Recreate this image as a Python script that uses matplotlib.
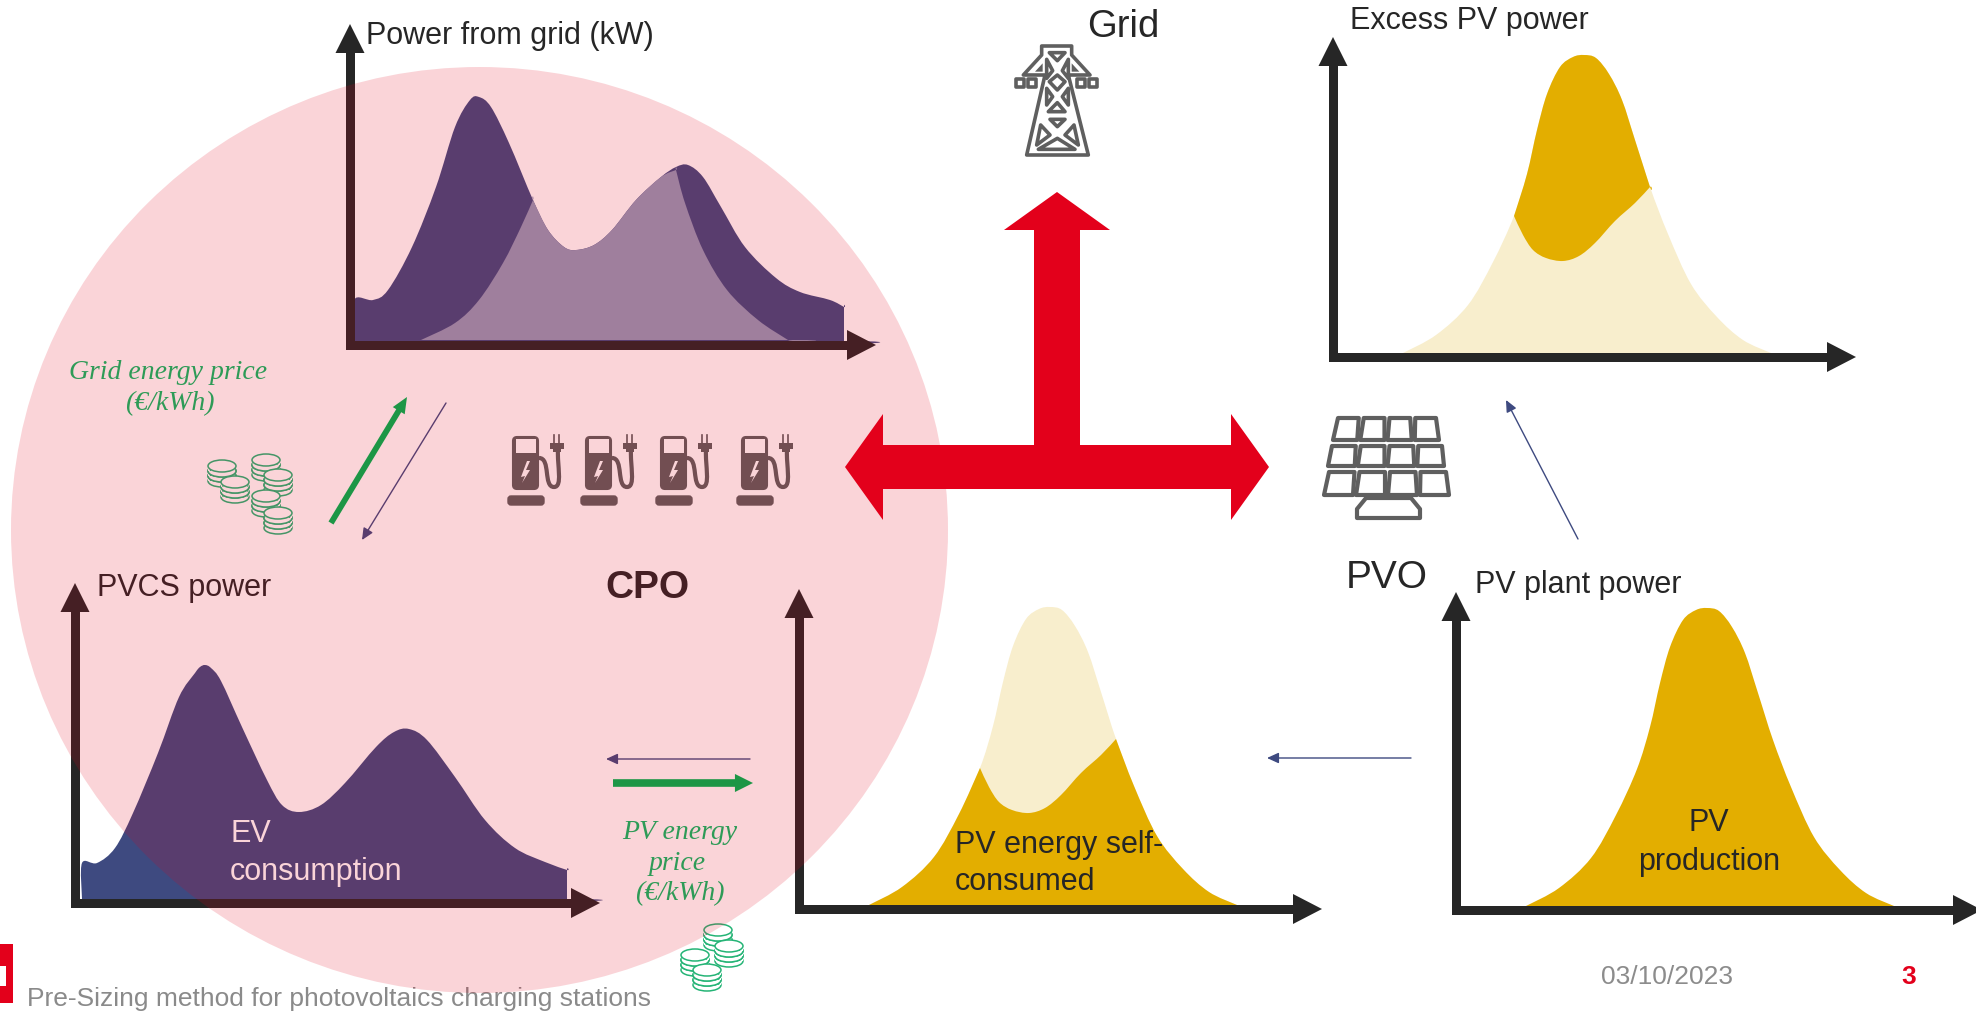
import matplotlib
matplotlib.use('Agg')
import matplotlib.pyplot as plt
import numpy as np
from matplotlib.path import Path
from matplotlib.patches import PathPatch, Polygon, Ellipse, Rectangle, FancyBboxPatch

W, H = 1976, 1013

# curves, px from the panel origin (x right, y up)
# doubled points are sharp corners
grid_x = [4, 4, 23, 38, 62, 86, 105, 120, 129, 141, 159, 183, 198, 214, 226, 244, 262, 286, 311, 326, 338, 353, 371, 395, 426, 450, 480, 494, 494, 494, 494, 4, 4]
grid_y = [4, 45, 45, 55, 98, 158, 218, 245, 248, 238, 202, 145, 115, 98, 95, 100, 115, 145, 168, 178, 180, 168, 138, 98, 67, 53, 45, 38, 38, 4, 4, 4, 4]

shared_x = [71, 71, 105, 129, 153, 171, 183, 183, 198, 214, 226, 244, 262, 286, 311, 326, 326, 335, 353, 377, 408, 438, 438, 71]
shared_y = [5, 5, 22, 45, 82, 118, 145, 145, 115, 98, 95, 100, 115, 145, 168, 175, 175, 142, 95, 55, 25, 5, 5, 5]

ev_x = [7, 7, 22, 40, 58, 83, 104, 120, 125, 130, 136, 146, 167, 192, 207, 224, 246, 270, 301, 319, 334, 352, 380, 410, 440, 470, 492, 492, 492, 492, 7, 7]
ev_y = [4, 40, 40, 55, 90, 150, 206, 230, 236, 238, 235, 222, 176, 123, 98, 91, 98, 120, 156, 171, 174, 163, 126, 83, 55, 41, 33, 33, 4, 4, 4, 4]

# PV bell, same shape on the three PV panels, cut where the self-consumed edge meets it
pv_rise_x = [70, 103, 135, 160, 181]
pv_rise_y = [4, 22, 52, 95, 141]
pv_top_x = [194, 204, 214, 227, 240, 251, 263, 276, 289, 302]
pv_top_y = [183, 227, 263, 290, 300, 302, 299, 283, 257, 217]
pv_fall_x = [317, 335, 358, 384, 410, 438]
pv_fall_y = [170, 123, 73, 40, 17, 4]

# lower edge of the excess PV / upper edge of the self-consumed part
edge_x = [181, 190, 200, 213, 230, 246, 262, 282, 302, 317]
edge_y = [141, 122, 107, 99, 96, 101, 114, 136, 154, 170]

# panels: origin px, y axis tip px, x axis tip px
panel_origin = {'grid': (350, 345), 'excess': (1333, 357), 'self': (799, 909), 'pv': (1456, 910), 'ev': (75, 903)}
panel_ytip = {'grid': 24, 'excess': 37, 'self': 589, 'pv': 592, 'ev': 583}
panel_xtip = {'grid': 876, 'excess': 1856, 'self': 1322, 'pv': 1982, 'ev': 600}

station_shift = [0, 73, 148, 229]
coin_tops = [(222, 466), (235, 482), (266, 460), (278, 475), (266, 496), (278, 513),
             (718, 930), (729, 946), (695, 955), (707, 970)]

PURPLE = '#3E4A80'
PALE_PURPLE = '#9299B8'
GOLD = '#E3AE00'
PALE_GOLD = '#F8EECD'
RED = '#E3001B'
INK = '#262626'
GREEN = '#1D9646'
GREEN_TXT = '#2E9B57'
COIN = '#25B476'
ICON = '#5C5E5E'
LINE_GREY = '#5F5F5F'
plt.rcParams['font.family'] = ['Liberation Sans', 'DejaVu Sans']
plt.rcParams['hatch.linewidth'] = 0.7


def smooth(xs, ys):
    pts = np.column_stack([xs, ys]).astype(float)
    verts = [pts[0]]
    codes = [Path.MOVETO]
    for i in range(len(pts) - 1):
        a, b, c, d = pts[max(i - 1, 0)], pts[i], pts[i + 1], pts[min(i + 2, len(pts) - 1)]
        verts += [b + (c - a) / 6, c - (d - b) / 6, c]
        codes += [Path.CURVE4] * 3
    return Path(verts, codes)


def panel(name):
    ox, oy = panel_origin[name]
    w = 560
    h = 340
    a = fig.add_axes([ox / W, 1 - oy / H, w / W, h / H], zorder=1)
    a.set_xlim(0, w)
    a.set_ylim(0, h)
    a.axis('off')
    return a


def fill_curve(a, xs, ys, color):
    a.add_patch(PathPatch(smooth(xs, ys), fc=color, ec='none'))


def axis_arrows(name):
    ox, oy = panel_origin[name]
    ytip, xtip = panel_ytip[name], panel_xtip[name]
    ax.add_patch(Rectangle((ox - 4.5, ytip + 25), 9, oy - ytip - 20, fc=INK, ec='none', zorder=3))
    ax.add_patch(Rectangle((ox - 4.5, oy - 4.5), xtip - ox - 25, 9, fc=INK, ec='none', zorder=3))
    ax.add_patch(Polygon([(ox, ytip), (ox - 14.5, ytip + 29), (ox + 14.5, ytip + 29)], fc=INK, ec='none', zorder=3))
    ax.add_patch(Polygon([(xtip, oy), (xtip - 29, oy - 15), (xtip - 29, oy + 15)], fc=INK, ec='none', zorder=3))


def thin_arrow(a, x0, y0, x1, y1, color=PURPLE):
    a.annotate('', xy=(x1, y1), xytext=(x0, y0), zorder=4,
               arrowprops=dict(arrowstyle='-|>,head_width=0.32,head_length=0.7', color=color, lw=1.0,
                               shrinkA=0, shrinkB=0))


def fat_arrow(a, x0, y0, x1, y1, lw, hw, hl, color=GREEN):
    a.annotate('', xy=(x1, y1), xytext=(x0, y0), zorder=6,
               arrowprops=dict(arrowstyle='simple,head_width=%f,head_length=%f,tail_width=%f' % (hw, hl, lw),
                               color=color, lw=0, shrinkA=0, shrinkB=0))


def charger(dx):
    ix = lambda v: 507 + dx + v
    ax.add_patch(FancyBboxPatch((ix(6), 437), 25, 52, boxstyle='round,pad=0,rounding_size=4', fc=ICON, ec=ICON, lw=1.5, zorder=3))
    ax.add_patch(Rectangle((ix(9), 439), 20, 14, fc='white', ec='none', zorder=3))
    ax.add_patch(Polygon([(ix(20), 461), (ix(14), 477), (ix(18), 476), (ix(15), 483), (ix(23), 470), (ix(19), 470), (ix(23), 461)], fc='white', ec='none', zorder=3))
    ax.add_patch(FancyBboxPatch((ix(1), 496), 36, 9, boxstyle='round,pad=0,rounding_size=3', fc=ICON, ec=ICON, lw=1, zorder=3))
    cable = Path([(ix(32), 458), (ix(44), 458), (ix(36), 487), (ix(47), 487), (ix(56), 487), (ix(50), 465), (ix(51), 450)],
                 [Path.MOVETO] + [Path.CURVE4] * 6)
    ax.add_patch(PathPatch(cable, fc='none', ec=ICON, lw=3, zorder=3))
    ax.add_patch(Rectangle((ix(43), 443), 14, 6, fc=ICON, ec='none', zorder=3))
    ax.add_patch(Rectangle((ix(46), 449), 8, 3, fc=ICON, ec='none', zorder=3))
    ax.plot([ix(46.5), ix(46.5)], [435, 443], color=ICON, lw=1.2, zorder=3)
    ax.plot([ix(52), ix(52)], [435, 443], color=ICON, lw=1.2, zorder=3)


def coin_stack(x, top):
    for k in [2, 1, 0]:
        y = top + k * 5
        ax.add_patch(Ellipse((x, y + 5), 28, 12, fc='white', ec=COIN, lw=1.1, zorder=3))
        ax.add_patch(Rectangle((x - 14, y), 28, 5, fc='white', ec=COIN, hatch='||||', lw=0, zorder=3))
        ax.add_patch(Ellipse((x, y), 28, 12, fc='white', ec=COIN, lw=1.1, zorder=3))


def grey_shape(points, closed=True, lw=2.6):
    pts = [(x / 3 + 1000, y / 3 + 30) for x, y in points]
    ax.add_patch(Polygon(pts, closed=closed, fc='none', ec=LINE_GREY, lw=lw, joinstyle='round', zorder=3))


fig = plt.figure(figsize=(W / 100, H / 100), dpi=100)

a_grid = panel('grid')
fill_curve(a_grid, grid_x, grid_y, PURPLE)
fill_curve(a_grid, shared_x, shared_y, PALE_PURPLE)

a_ev = panel('ev')
fill_curve(a_ev, ev_x, ev_y, PURPLE)

bell_x = pv_rise_x + pv_top_x + pv_fall_x + [438, 70, 70]
bell_y = pv_rise_y + pv_top_y + pv_fall_y + [4, 4, 4]

a_ex = panel('excess')
fill_curve(a_ex, bell_x, bell_y, PALE_GOLD)
fill_curve(a_ex, edge_x + edge_x[-1:] + pv_top_x[::-1] + edge_x[:1] + edge_x[:1],
           edge_y + edge_y[-1:] + pv_top_y[::-1] + edge_y[:1] + edge_y[:1], GOLD)

a_self = panel('self')
fill_curve(a_self, bell_x, bell_y, PALE_GOLD)
fill_curve(a_self, pv_rise_x + edge_x[:1] + edge_x + edge_x[-1:] + pv_fall_x + [438, 70, 70],
           pv_rise_y + edge_y[:1] + edge_y + edge_y[-1:] + pv_fall_y + [4, 4, 4], GOLD)

a_pv = panel('pv')
fill_curve(a_pv, bell_x, bell_y, GOLD)

# overlay in picture pixels
ax = fig.add_axes([0, 0, 1, 1], zorder=2)
ax.set_xlim(0, W)
ax.set_ylim(H, 0)
ax.axis('off')

for name in panel_origin:
    axis_arrows(name)

for dx in station_shift:
    charger(dx)
for x, y in coin_tops:
    coin_stack(x, y)

# tower
grey_shape([(125, 48), (215, 48), (215, 75), (270, 135), (205, 135), (265, 375), (80, 375), (135, 135), (70, 135), (125, 75)])
for shape in [[(148, 68), (195, 68), (172, 92)],
              [(172, 135), (195, 155), (172, 180), (148, 155)],
              [(140, 88), (158, 122), (140, 145)], [(205, 88), (187, 122), (205, 145)],
              [(140, 175), (158, 200), (140, 225)], [(205, 175), (187, 200), (205, 225)],
              [(172, 218), (195, 245), (145, 245)],
              [(150, 268), (195, 268), (172, 290)],
              [(122, 285), (150, 315), (110, 345)], [(222, 285), (195, 315), (235, 345)],
              [(172, 325), (225, 358), (115, 358)],
              [(48, 148), (72, 148), (72, 172), (48, 172)], [(84, 148), (108, 148), (108, 172), (84, 172)],
              [(232, 148), (256, 148), (256, 172), (232, 172)], [(268, 148), (292, 148), (292, 172), (268, 172)]]:
    grey_shape(shape)
for shape in [[(105, 125), (128, 100), (128, 125)], [(215, 100), (238, 125), (215, 125)]]:
    pts = [(x / 3 + 1000, y / 3 + 30) for x, y in shape]
    ax.add_patch(Polygon(pts, fc=LINE_GREY, ec='none', zorder=3))

# solar panel
rows = [(418, 440, 1333, 1442, 1336, 1439), (446, 466, 1328, 1447, 1330, 1445), (472, 495, 1324, 1452, 1327, 1449)]
for y0, y1, xb0, xb1, xt0, xt1 in rows:
    for c in range(4):
        tl = xt0 + (xt1 - xt0) * c / 4
        tr = xt0 + (xt1 - xt0) * (c + 1) / 4 - 3
        bl = xb0 + (xb1 - xb0) * c / 4
        br = xb0 + (xb1 - xb0) * (c + 1) / 4 - 3
        ax.add_patch(Polygon([(tl + 2, y0), (tr, y0), (br, y1), (bl, y1)], fc='none', ec=LINE_GREY, lw=3, joinstyle='round', zorder=3))
ax.add_patch(Polygon([(1366, 498), (1411, 498), (1420, 509), (1420, 518), (1357, 518), (1357, 509)], fc='none', ec=LINE_GREY, lw=3, joinstyle='round', zorder=3))

# thin flow arrows
thin_arrow(ax, 446, 403, 362, 540)
thin_arrow(ax, 750, 759, 606, 759)
thin_arrow(ax, 1411, 758, 1267, 758)
thin_arrow(ax, 1578, 539, 1506, 400)

# texts
label = dict(fontsize=22, color=INK, va='center', zorder=4)
ax.text(366, 36, 'Power from grid (kW)', **label)
ax.text(1350, 21, 'Excess PV power', **label)
ax.text(1475, 585, 'PV plant power', **label)
ax.text(97, 588, 'PVCS power', **label)
ax.text(955, 845, 'PV energy self-', **label)
ax.text(955, 882, 'consumed', **label)
ax.text(1709, 823, 'PV', ha='center', **label)
ax.text(1709, 862, 'production', ha='center', **label)
ax.text(230, 834, 'EV', fontsize=22, color='white', va='center', zorder=4)
ax.text(230, 872, 'consumption', fontsize=22, color='white', va='center', zorder=4)
ax.text(1123, 27, 'Grid', fontsize=27.5, color=INK, ha='center', va='center', zorder=4)
ax.text(1346, 578, 'PVO', fontsize=28, color=INK, va='center', zorder=4)
ax.text(605, 588, 'CPO', fontsize=28, color=INK, fontweight='bold', va='center', zorder=4)
ax.text(1601, 977, '03/10/2023', fontsize=19, color='#8C8C8C', va='center', zorder=4)
ax.text(1909, 977, '3', fontsize=19, color=RED, fontweight='bold', ha='center', va='center', zorder=4)
ax.text(27, 999, 'Pre-Sizing method for photovoltaics charging stations', fontsize=19, color='#8A8A8A', va='center', zorder=4)

# logo stub on the left edge
ax.add_patch(Rectangle((0, 944), 13, 59, fc=RED, ec='none', zorder=4))
ax.add_patch(Rectangle((0, 966), 6, 20, fc='white', ec='none', zorder=4))

# CPO disc over everything above
ax.add_patch(Ellipse((479.5, 530), 937, 926, fc=RED, ec='none', alpha=0.17, zorder=5))

# things that sit on top of the disc
big = [(1057, 192), (1110, 230), (1080, 230), (1080, 445), (1231, 445), (1231, 414), (1269, 467), (1231, 520), (1231, 489),
       (883, 489), (883, 520), (845, 467), (883, 414), (883, 445), (1034, 445), (1034, 230), (1004, 230)]
ax.add_patch(Polygon(big, fc=RED, ec='none', zorder=6))

fat_arrow(ax, 331, 523, 407, 397, 0.42, 1.0, 1.15)
fat_arrow(ax, 613, 783, 753, 783, 0.55, 1.3, 1.3)

serif = dict(family=['Liberation Serif', 'DejaVu Serif'], style='italic', fontsize=20, color=GREEN_TXT, ha='center', va='center', zorder=6)
ax.text(168, 372, 'Grid energy price', **serif)
ax.text(170, 404, '(€/kWh)', **serif)
ax.text(680, 832, 'PV energy', **serif)
ax.text(677, 863, 'price', **serif)
ax.text(680, 894, '(€/kWh)', **serif)

fig.savefig('out.png', dpi=100)
